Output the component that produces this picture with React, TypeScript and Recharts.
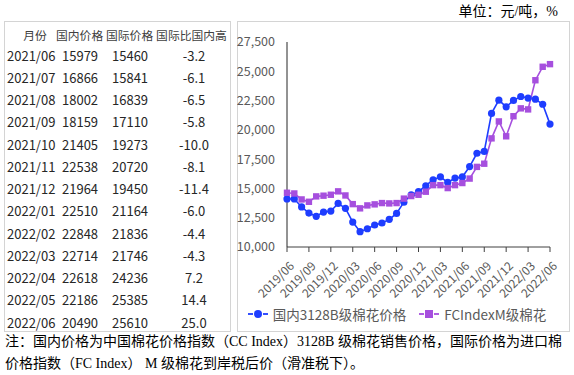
import React from "react";
import { LineChart, Line, XAxis, YAxis, Legend } from "recharts";

const months = [
  "2019/06","2019/07","2019/08","2019/09","2019/10","2019/11","2019/12",
  "2020/01","2020/02","2020/03","2020/04","2020/05","2020/06","2020/07","2020/08","2020/09","2020/10","2020/11","2020/12",
  "2021/01","2021/02","2021/03","2021/04","2021/05","2021/06","2021/07","2021/08","2021/09","2021/10","2021/11","2021/12",
  "2022/01","2022/02","2022/03","2022/04","2022/05","2022/06",
];

const domestic = [
  14100, 14100, 13420, 12900, 12620, 12980, 13070,
  13720, 13300, 12130, 11310, 11560, 11880, 12050, 12360, 12870, 13830, 14460, 14720,
  15230, 15740, 15990, 15510, 15880, 15979, 16866, 18002, 18159, 21405, 22538, 21964,
  22510, 22848, 22714, 22618, 22186, 20490,
];

const international = [
  14630, 14570, 14060, 13860, 14320, 14380, 14460,
  14750, 14400, 13660, 13300, 13550, 13640, 13750, 13720, 13750, 14130, 14350, 14460,
  14720, 15280, 15280, 15030, 15280, 15460, 15841, 16839, 17110, 19273, 20720, 19450,
  21164, 21836, 21746, 24236, 25385, 25610,
];

const yTicks = [10000, 12500, 15000, 17500, 20000, 22500, 25000, 27500];

const tableMonths = ["2021/06","2021/07","2021/08","2021/09","2021/10","2021/11","2021/12","2022/01","2022/02","2022/03","2022/04","2022/05","2022/06"];
const tableDomestic = [15979, 16866, 18002, 18159, 21405, 22538, 21964, 22510, 22848, 22714, 22618, 22186, 20490];
const tableInternational = [15460, 15841, 16839, 17110, 19273, 20720, 19450, 21164, 21836, 21746, 24236, 25385, 25610];
const tableDiff = ["-3.2","-6.1","-6.5","-5.8","-10.0","-8.1","-11.4","-6.0","-4.4","-4.3","7.2","14.4","25.0"];
const tableHeaders = ["月份", "国内价格", "国际价格", "国际比国内高"];

const seriesNames = ["国内3128B级棉花价格", "FCIndexM级棉花"];

const BLUE = "#1E3DFF";
const PURPLE = "#A64FDE";

const data = months.map((m, i) => ({ month: m, domestic: domestic[i], international: international[i] }));

const sansCJK = "'Noto Sans CJK SC', 'Noto Sans', sans-serif";
const serifFont = "'Liberation Serif', 'Noto Sans CJK SC', serif";

const XTick = (props: any) => {
  const { x, y, payload } = props;
  return (
    <text
      transform={`translate(${x + 4},${y + 9}) rotate(-45)`}
      textAnchor="end"
      fontSize={12}
      fill="#595959"
      fontFamily={sansCJK}
      dominantBaseline="central"
    >
      {payload.value}
    </text>
  );
};

const SquareDot = (props: any) => {
  const { cx, cy, index } = props;
  if (cx == null || cy == null) return null;
  return <rect key={`sq-${index}`} x={cx - 3.2} y={cy - 3.2} width={6.4} height={6.4} fill={PURPLE} />;
};

const CircleDot = (props: any) => {
  const { cx, cy, index } = props;
  if (cx == null || cy == null) return null;
  return <circle key={`c-${index}`} cx={cx} cy={cy} r={3.6} fill={BLUE} />;
};

const LegendContent = () => (
  <div style={{ display: "flex", justifyContent: "center", alignItems: "center", height: 20, fontFamily: sansCJK, fontSize: 13.5, color: "#595959", paddingLeft: 6 }}>
    <svg width={22} height={12} style={{ marginRight: 4 }}>
      <line x1={1} y1={6} x2={6} y2={6} stroke={BLUE} strokeWidth={1.8} />
      <line x1={16} y1={6} x2={21} y2={6} stroke={BLUE} strokeWidth={1.8} />
      <circle cx={11} cy={6} r={4} fill={BLUE} />
    </svg>
    <span style={{ marginRight: 12 }}>{seriesNames[0]}</span>
    <svg width={22} height={12} style={{ marginRight: 4 }}>
      <line x1={1} y1={6} x2={6} y2={6} stroke={PURPLE} strokeWidth={1.8} />
      <line x1={16} y1={6} x2={21} y2={6} stroke={PURPLE} strokeWidth={1.8} />
      <rect x={7} y={2} width={8} height={8} fill={PURPLE} />
    </svg>
    <span>{seriesNames[1]}</span>
  </div>
);

const rowY = (i: number) => 55.7 + i * 22.25;
const headerCenters = [35, 79.6, 129.6, 191.5];

export default function App() {
  return (
    <div style={{ position: "absolute", left: 0, top: 0, width: 574, height: 375, background: "#fff", overflow: "hidden" }}>
      <div style={{ position: "absolute", right: 16, top: 2, fontFamily: serifFont, fontSize: 14, color: "#000", lineHeight: "20px" }}>
        单位：元/吨，%
      </div>

      {/* Table box */}
      <div style={{ position: "absolute", left: 4, top: 21, width: 227, height: 311, border: "1px solid #d4d4d4", boxSizing: "border-box" }} />
      {tableHeaders.map((h, j) => (
        <div key={`h${j}`} style={{ position: "absolute", left: headerCenters[j] - 50, width: 100, top: 35 - 10, height: 20, lineHeight: "20px", textAlign: "center", fontFamily: sansCJK, fontSize: 11.8, color: "#404040", whiteSpace: "nowrap" }}>
          {h}
        </div>
      ))}
      {tableMonths.map((m, i) => (
        <React.Fragment key={m}>
          <div style={{ position: "absolute", left: 7, top: rowY(i) - 10, height: 20, lineHeight: "20px", fontFamily: sansCJK, fontSize: 13, color: "#262626", whiteSpace: "nowrap" }}>{m}</div>
          <div style={{ position: "absolute", left: 62, top: rowY(i) - 10, height: 20, lineHeight: "20px", fontFamily: sansCJK, fontSize: 13, color: "#262626" }}>{tableDomestic[i]}</div>
          <div style={{ position: "absolute", left: 112, top: rowY(i) - 10, height: 20, lineHeight: "20px", fontFamily: sansCJK, fontSize: 13, color: "#262626" }}>{tableInternational[i]}</div>
          <div style={{ position: "absolute", left: 144, width: 100, top: rowY(i) - 10, height: 20, lineHeight: "20px", textAlign: "center", fontFamily: sansCJK, fontSize: 13, color: "#262626" }}>{tableDiff[i]}</div>
        </React.Fragment>
      ))}

      {/* Chart box */}
      <div style={{ position: "absolute", left: 237, top: 21, width: 333, height: 311, border: "1px solid #d4d4d4", boxSizing: "border-box" }} />
      <div style={{ position: "absolute", left: 237, top: 21 }}>
        <LineChart width={333} height={311} data={data} margin={{ top: 21, right: 20, bottom: 8, left: 0 }}>
          <XAxis
            dataKey="month"
            scale="point"
            interval={2}
            padding={{ left: 0, right: 0 }}
            tick={<XTick />}
            tickSize={5}
            height={57}
            axisLine={{ stroke: "#404040" }}
            tickLine={{ stroke: "#404040" }}
          />
          <YAxis
            domain={[10000, 27500]}
            ticks={yTicks}
            width={50}
            tickLine={false}
            axisLine={{ stroke: "#262626" }}
            tick={{ fontSize: 12.5, fill: "#595959", fontFamily: sansCJK }}
            tickFormatter={(v: number) => v.toLocaleString("en-US")}
            tickMargin={6}
            interval={0}
          />
          <Legend verticalAlign="bottom" height={20} content={<LegendContent />} />
          <Line type="linear" dataKey="domestic" name={seriesNames[0]} stroke={BLUE} strokeWidth={1.6} dot={<CircleDot />} isAnimationActive={false} />
          <Line type="linear" dataKey="international" name={seriesNames[1]} stroke={PURPLE} strokeWidth={1.6} dot={<SquareDot />} isAnimationActive={false} />
        </LineChart>
      </div>

      <div style={{ position: "absolute", left: 5, top: 331, width: 566, fontFamily: serifFont, fontSize: 14, lineHeight: "22px", color: "#000", whiteSpace: "nowrap" }}>
        <div>注：国内价格为中国棉花价格指数（CC Index）3128B 级棉花销售价格，国际价格为进口棉</div>
        <div>价格指数（FC Index） M 级棉花到岸税后价（滑准税下）。</div>
      </div>
    </div>
  );
}
